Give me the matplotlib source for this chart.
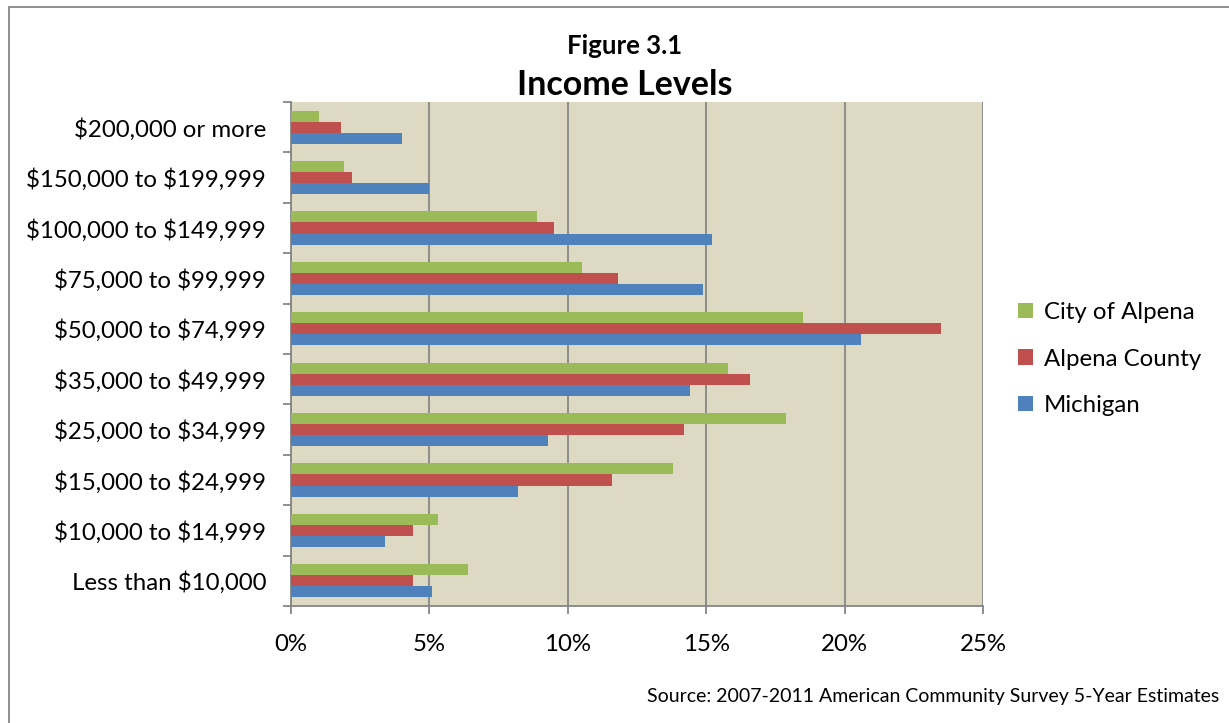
import matplotlib.pyplot as plt
import numpy as np
from matplotlib.ticker import PercentFormatter
from matplotlib.patches import Rectangle

categories = ["Less than $10,000", "$10,000 to $14,999", "$15,000 to $24,999",
              "$25,000 to $34,999", "$35,000 to $49,999", "$50,000 to $74,999",
              "$75,000 to $99,999", "$100,000 to $149,999", "$150,000 to $199,999",
              "$200,000 or more"]

michigan = [5.1, 3.4, 8.2, 9.3, 14.4, 20.6, 14.9, 15.2, 5.0, 4.0]
alpena_county = [4.4, 4.4, 11.6, 14.2, 16.6, 23.5, 11.8, 9.5, 2.2, 1.8]
city_of_alpena = [6.4, 5.3, 13.8, 17.9, 15.8, 18.5, 10.5, 8.9, 1.9, 1.0]

plt.rcParams['font.family'] = ['Lato', 'DejaVu Sans']

fig = plt.figure(figsize=(12.29, 7.23), dpi=100)
ax = fig.add_axes([0.2368, 0.1618, 0.563, 0.6971])
ax.set_facecolor('#DDD9C3')

y = np.arange(len(categories))
h = 0.22
ax.barh(y - h, michigan, height=h, color='#4F81BD', label='Michigan', zorder=3)
ax.barh(y, alpena_county, height=h, color='#C0504D', label='Alpena County', zorder=3)
ax.barh(y + h, city_of_alpena, height=h, color='#9BBB59', label='City of Alpena', zorder=3)

ax.set_xlim(0, 25)
ax.set_ylim(-0.5, len(categories) - 0.5)
ax.set_xticks(np.arange(0, 26, 5))
ax.xaxis.set_major_formatter(PercentFormatter(decimals=0))
ax.grid(axis='x', color='#868686', linewidth=1.3, zorder=1)

# escape the dollar signs so they are not read as mathtext
ax.set_yticks(y)
ax.set_yticklabels([c.replace('$', r'\$') for c in categories])
ax.set_yticks(np.arange(-0.5, len(categories), 1), minor=True)
ax.tick_params(axis='y', which='major', length=0, pad=18, labelsize=17.3)
ax.tick_params(axis='y', which='minor', length=6, color='#868686', width=1.3)
ax.tick_params(axis='x', length=6, color='#868686', width=1.3, labelsize=17.3, pad=14)

for s in ['top', 'right']:
    ax.spines[s].set_visible(False)
for s in ['left', 'bottom']:
    ax.spines[s].set_color('#868686')
    ax.spines[s].set_linewidth(1.3)

handles, labels = ax.get_legend_handles_labels()
ax.legend(handles[::-1], labels[::-1], loc='center left', bbox_to_anchor=(1.02, 0.49),
          frameon=False, fontsize=17.3, handlelength=0.6, handleheight=0.6,
          handletextpad=0.45, labelspacing=1.05)

fig.text(0.508, 0.937, "Figure 3.1", ha='center', va='center', fontsize=18.5, fontweight='bold')
fig.text(0.508, 0.882, "Income Levels", ha='center', va='center', fontsize=24.5, fontweight='bold')
fig.text(0.992, 0.036, "Source: 2007-2011 American Community Survey 5-Year Estimates",
         ha='right', va='center', fontsize=14)

fig.patches.append(Rectangle((0.007, -0.01), 1.2, 1.0, transform=fig.transFigure,
                             fill=False, edgecolor='#868686', linewidth=1.3))

fig.savefig('out.png', dpi=100)
